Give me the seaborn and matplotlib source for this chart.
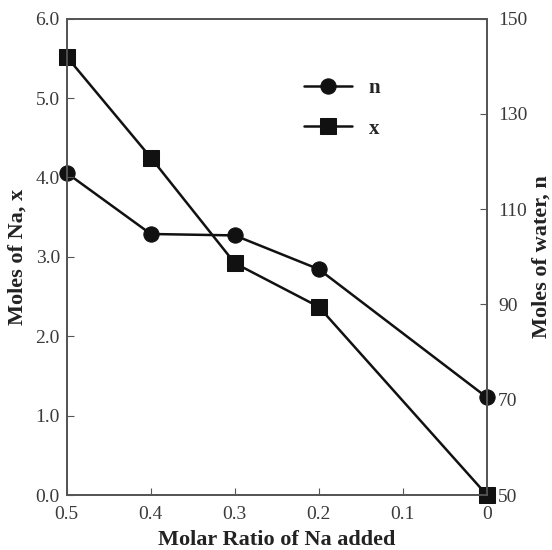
import pandas as pd
import seaborn as sns
import matplotlib.pyplot as plt

molar_ratio = [0.5, 0.4, 0.3, 0.2, 0.0]
moles_na_x = [5.52, 4.25, 2.92, 2.37, 0.0]
moles_water_n = [117.6, 104.8, 104.5, 97.4, 70.5]
x_tick_labels = ["0.5", "0.4", "0.3", "0.2", "0.1", "0"]

df = pd.DataFrame({"ratio": molar_ratio, "x": moles_na_x, "n": moles_water_n})

sns.set_style("white")
plt.rcParams['font.family'] = ['Liberation Serif', 'DejaVu Serif']

fig = plt.figure(figsize=(5.52, 5.5), dpi=100)
ax = fig.add_axes([0.121, 0.1, 0.761, 0.866])
ax2 = ax.twinx()

spine_c = "#555555"
line_c = "#111111"
sns.lineplot(data=df, x="ratio", y="n", ax=ax2, sort=False, color=line_c,
             marker="o", markersize=11, markeredgecolor=line_c, linewidth=1.8,
             label="n", legend=False, clip_on=False)
sns.lineplot(data=df, x="ratio", y="x", ax=ax, sort=False, color=line_c,
             marker="s", markersize=11, markeredgecolor=line_c, linewidth=1.8,
             label="x", legend=False, clip_on=False)
ax.set_zorder(ax2.get_zorder() + 1)
ax.patch.set_visible(False)

ax.set_xlim(0.5, 0)
ax.set_ylim(0, 6)
ax2.set_ylim(50, 150)
ax.set_xticks([0.5, 0.4, 0.3, 0.2, 0.1, 0.0])
ax.set_xticklabels(x_tick_labels)
ax.set_yticks([0, 1, 2, 3, 4, 5, 6])
ax.set_yticklabels([f"{v:.1f}" for v in range(7)])
ax2.set_yticks([50, 70, 90, 110, 130, 150])

for a in (ax, ax2):
    for s in a.spines.values():
        s.set_color(spine_c)
        s.set_linewidth(1.3)
ax.tick_params(axis="both", direction="in", length=5, color=spine_c,
               labelsize=14, labelcolor="#3a3a3a", left=True, bottom=True, pad=5)
ax.tick_params(axis="x", pad=8)
ax2.tick_params(axis="y", direction="in", length=5, color=spine_c,
                labelsize=14, labelcolor="#3a3a3a", right=True, pad=8)

ax.set_xlabel("Molar Ratio of Na added", fontsize=16, fontweight="bold", color="#222222", labelpad=5)
ax.set_ylabel("Moles of Na, x", fontsize=16, fontweight="bold", color="#222222", labelpad=6)
ax2.set_ylabel("Moles of water, n", fontsize=16, fontweight="bold", color="#222222", labelpad=3)

h1, l1 = ax2.get_legend_handles_labels()
h2, l2 = ax.get_legend_handles_labels()
leg = ax.legend(h1 + h2, l1 + l2, loc="upper left", bbox_to_anchor=(0.52, 0.915),
                frameon=False, handlelength=2.3, labelspacing=1.0,
                prop={"family": "Liberation Serif", "weight": "bold", "size": 15})

fig.savefig("out.png", dpi=100)
